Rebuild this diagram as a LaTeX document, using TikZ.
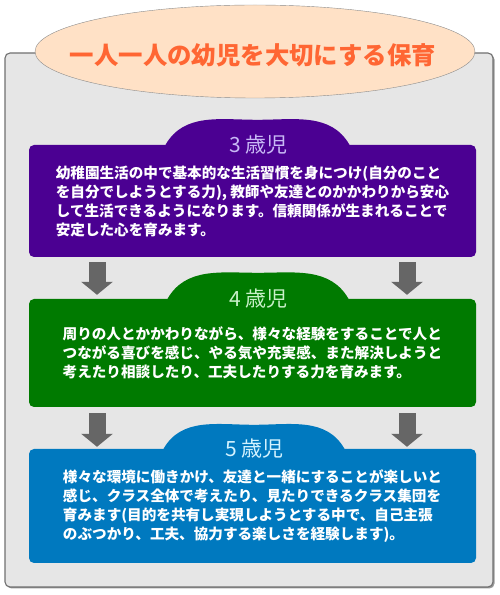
\documentclass[tikz,border=0pt]{standalone}
\usepackage{fontspec}
\newfontfamily\jp{Noto Sans CJK JP}
\usetikzlibrary{arrows.meta,positioning,calc,shapes.geometric}

\definecolor{framefill}{HTML}{E6E6E6}
\definecolor{framedraw}{HTML}{707070}
\definecolor{titlefill}{HTML}{FFE1C6}
\definecolor{titledraw}{HTML}{8C8C8C}
\definecolor{titletext}{HTML}{FF6633}
\definecolor{agethree}{HTML}{4B0092}
\definecolor{labthree}{HTML}{C8B9F5}
\definecolor{agefour}{HTML}{007A00}
\definecolor{labfour}{HTML}{C8F0C8}
\definecolor{agefive}{HTML}{0079BF}
\definecolor{labfive}{HTML}{D2F2FF}
\definecolor{arrowgray}{HTML}{666666}

\begin{document}
\begin{tikzpicture}[x=1pt,y=1pt,
  agebox/.style={rounded corners=5pt,minimum width=447pt,inner sep=0pt,
    text=white,align=left,font=\jp\bfseries\fontsize{14.6}{19}\selectfont},
  agelabel/.style={inner sep=0pt,font=\jp\fontsize{21}{21}\selectfont},
  blockarrow/.style={line width=17pt,draw=arrowgray,-{Triangle[width=31pt,length=13pt]}}]
  \useasboundingbox (0,0) rectangle (500,595);
  % outer frame with a small shadow
  \fill[gray!80,rounded corners=5pt] (6.5,6.5) rectangle (494.5,540.5);
  \node[draw=framedraw,fill=framefill,line width=1.1pt,rounded corners=5pt,
    minimum width=488pt,minimum height=534pt,inner sep=0pt] (frame) at (249,275) {};
  \node[ellipse,draw=titledraw,fill=titlefill,minimum width=440pt,minimum height=93pt,
    inner sep=0pt] (title) at (255,543.5) {};
  \node[text=titletext,font=\jp\bfseries\fontsize{24.4}{25}\selectfont] (titletxt)
    at (253,540) {一人一人の幼児を大切にする保育};

  \node[agebox,fill=agethree,minimum height=112pt] (age3) at (252.5,394)
    {幼稚園生活の中で基本的な生活習慣を身につけ(自分のこと\\
     を自分でしようとする力), 教師や友達とのかかわりから安心\\
     して生活できるようになります。信頼関係が生まれることで\\
     安定した心を育みます。};
  \fill[agethree] ($(age3.north)+(-87,0)$) to[out=60,in=180] ($(age3.north)+(5,25)$)
    to[out=0,in=120] ($(age3.north)+(97,0)$) -- cycle;
  \node[agelabel,text=labthree] (lab3) at ($(age3.north)+(6,0)$) {3 歳児};

  \node[agebox,fill=agefour,minimum height=108pt] (age4) at (252.5,242)
    {周りの人とかかわりながら、様々な経験をすることで人と\\
     つながる喜びを感じ、やる気や充実感、また解決しようと\\
     考えたり相談したり、工夫したりする力を育みます。};
  \fill[agefour] ($(age4.north)+(-85,0)$) to[out=60,in=180] ($(age4.north)+(5.5,26)$)
    to[out=0,in=120] ($(age4.north)+(96,0)$) -- cycle;
  \node[agelabel,text=labfour] (lab4) at ($(age4.north)+(6,0)$) {4 歳児};

  \node[agebox,fill=agefive,minimum height=114pt] (age5) at (252.5,89)
    {様々な環境に働きかけ、友達と一緒にすることが楽しいと\\
     感じ、クラス全体で考えたり、見たりできるクラス集団を\\
     育みます(目的を共有し実現しようとする中で、自己主張\\
     のぶつかり、工夫、協力する楽しさを経験します)。};
  \fill[agefive] ($(age5.north)+(-89,0)$) to[out=60,in=180] ($(age5.north)+(1.5,24)$)
    to[out=0,in=120] ($(age5.north)+(92,0)$) -- cycle;
  \node[agelabel,text=labfive] (lab5) at ($(age5.north)+(2,0)$) {5 歳児};

  \draw[blockarrow] ([xshift=-155.5pt,yshift=-5pt]age3.south) -- ([xshift=-155.5pt,yshift=4pt]age4.north);
  \draw[blockarrow] ([xshift=154.5pt,yshift=-5pt]age3.south) -- ([xshift=154.5pt,yshift=4pt]age4.north);
  \draw[blockarrow] ([xshift=-155.5pt,yshift=-6pt]age4.south) -- ([xshift=-155.5pt,yshift=2pt]age5.north);
  \draw[blockarrow] ([xshift=154.5pt,yshift=-6pt]age4.south) -- ([xshift=154.5pt,yshift=2pt]age5.north);
\end{tikzpicture}
\end{document}
